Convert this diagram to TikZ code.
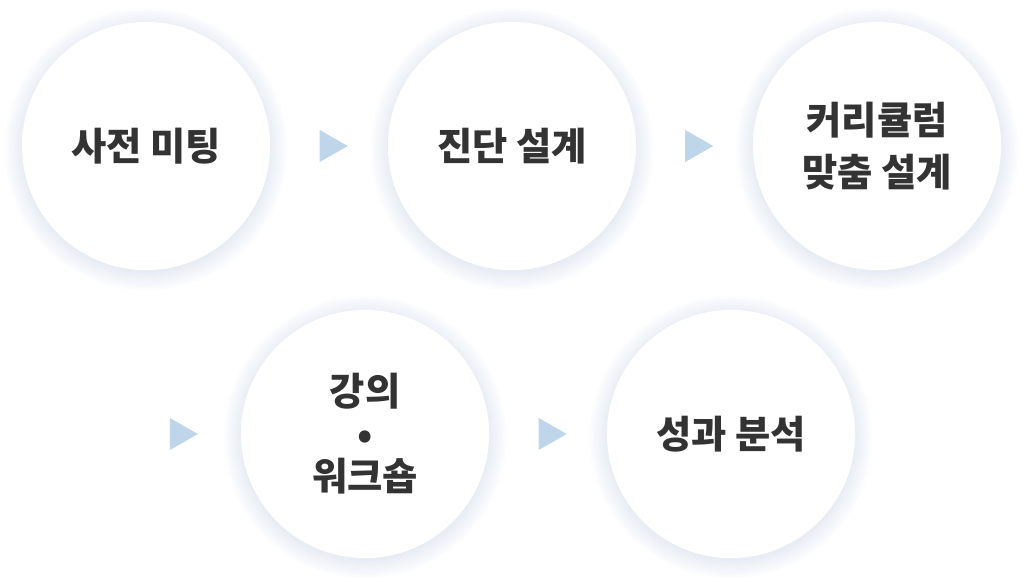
\documentclass[tikz,border=0pt]{standalone}
\usepackage{fontspec}
\setmainfont{Noto Sans CJK KR}
\usetikzlibrary{positioning,calc,shapes.geometric,backgrounds}
\definecolor{glowblue}{RGB}{184,198,222}
\definecolor{arrowblue}{RGB}{190,213,234}
\definecolor{textgray}{RGB}{51,51,51}
\tikzset{
  stage/.style={circle, fill=white, minimum size=2.48cm, inner sep=0pt,
    align=center, text=textgray, font=\fontsize{10.9}{14.8}\selectfont\bfseries},
  marker/.style={isosceles triangle, isosceles triangle stretches,
    fill=arrowblue, inner sep=0pt, minimum width=0.32cm, minimum height=0.28cm},
}

\begin{document}
\begin{tikzpicture}[x=0.01cm, y=-0.01cm]
\useasboundingbox (0,0) rectangle (1024,582);

\node[stage] (meet) at (146,146) {사전 미팅};
\node[stage] (diag) at (512,146) {진단 설계};
\node[stage] (curr) at (877,146) {커리큘럼\\맞춤 설계};
\node[stage, font=\fontsize{10.9}{12.1}\selectfont\bfseries] (lect) at (365,434) {강의\\•\\워크숍};
\node[stage] (eval) at (731,434) {성과 분석};

% arrows between the stages
\node[marker] (m1) at ($(meet)!0.5!(diag)$) {};
\node[marker] (m2) at ($(diag)!0.5!(curr)$) {};
\node[marker, left=0.61cm of lect.west, anchor=center] (m3) {};
\node[marker] (m4) at ($(lect)!0.5!(eval)$) {};

% soft glow round the circles
\begin{scope}[on background layer]
\foreach \n in {meet,diag,curr,lect,eval}
  \foreach \k in {1,...,20}
    \fill[glowblue, opacity=0.018] ($(\n)+(0,3)$) circle (122+\k);
\end{scope}

\end{tikzpicture}
\end{document}
